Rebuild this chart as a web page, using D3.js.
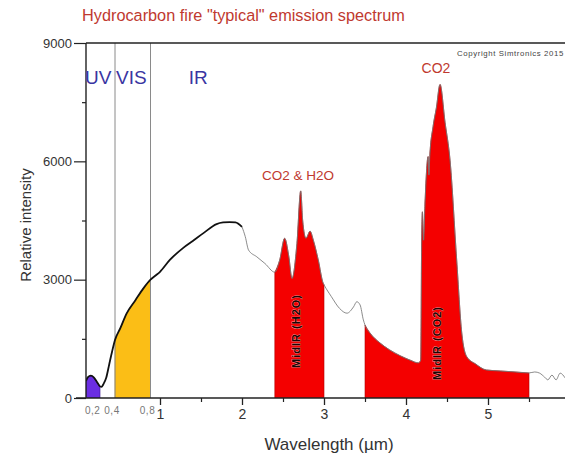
<!DOCTYPE html>
<html>
<head>
<meta charset="utf-8">
<script src="https://cdn.jsdelivr.net/npm/d3@7"></script>
<style>
  html, body { margin: 0; padding: 0; background: #fff; }
  svg { display: block; font-family: Arial, "Liberation Sans", sans-serif; }
</style>
</head>
<body>
<svg id="chart" width="565" height="457"></svg>
<script>
// Emission spectrum: wavelength (µm) and relative intensity
const wavelength = [
  0.10, 0.12, 0.15, 0.18, 0.21, 0.245, 0.26, 0.28, 0.31, 0.34, 0.37, 0.40,
  0.46, 0.53, 0.63, 0.72, 0.80, 0.90, 1.00, 1.12, 1.28, 1.40, 1.53, 1.69,
  1.77, 1.85, 1.92, 2.00, 2.04, 2.08, 2.18, 2.28, 2.40, 2.46, 2.52, 2.57,
  2.61, 2.67, 2.716, 2.74, 2.78, 2.83, 2.87, 2.93, 2.99, 3.00, 3.09, 3.19,
  3.28, 3.36, 3.40, 3.44, 3.48, 3.50, 3.56, 3.68, 3.80, 3.93, 4.05, 4.15,
  4.18, 4.19, 4.20, 4.215, 4.23, 4.27, 4.28, 4.29, 4.33, 4.37, 4.415, 4.476,
  4.537, 4.618, 4.68, 4.74, 4.85, 4.98, 5.15, 5.33, 5.50, 5.57, 5.63, 5.69,
  5.73, 5.78, 5.83, 5.88, 5.94
];
const intensity = [
  430, 530, 565, 525, 420, 295, 280, 350, 520, 850, 1180, 1470,
  1770, 2140, 2480, 2780, 3000, 3100, 3200, 3500, 3800, 3980, 4180, 4410,
  4450, 4460, 4450, 4340, 4090, 3750, 3580, 3410, 3190, 3500, 4050, 3600,
  3030, 3920, 5250, 4500, 4050, 4230, 4000, 3500, 2910, 2870, 2570, 2270,
  2150, 2310, 2440, 2360, 1980, 1850, 1650, 1400, 1220, 1070, 960, 890,
  960, 3750, 4720, 4000, 4850, 6120, 5650, 6120, 6880, 7350, 7950, 6990,
  6030, 3500, 1650, 1050, 860, 710, 685, 660, 635, 660, 630, 530,
  460, 580, 460, 630, 510
];

// Shaded bands (µm)
const bandStart = [0.1, 0.4, 2.4, 3.5];
const bandEnd   = [0.245, 0.8, 3.0, 5.5];
const bandLabel = ["", "", "MidIR (H2O)", "MidIR (CO2)"];

// Spectral region dividers and names
const regionBounds = [0.4, 0.8];
const regionLabels = ["UV", "VIS", "IR"];

// Axis ticks
const yTicks = [0, 3000, 6000, 9000];
const yMinorTicks = [1500, 4500, 7500];
const xTicks = [1, 2, 3, 4, 5];
const xMinorTicks = [1.5, 2.5, 3.5, 4.5, 5.5];
const xSmallTicks = [0.2, 0.4, 0.8];
const xSmallLabels = ["0,2", "0,4", "0,8"];

const svg = d3.select("#chart");
const plotL = 86, plotR = 565, plotT = 43, plotB = 398;

// Short-wavelength end is stretched on the original axis
const x = d3.scaleLinear()
  .domain([0.1, 0.4, 0.8, 1, 6])
  .range([86, 115, 150.5, 160, 570]);
const y = d3.scaleLinear().domain([0, 9000]).range([plotB, plotT]);

const pts = wavelength.map((w, i) => ({ w, v: intensity[i] }));

svg.append("defs").append("clipPath").attr("id", "plot")
  .append("rect").attr("x", plotL).attr("y", plotT - 1)
  .attr("width", plotR - plotL).attr("height", plotB - plotT + 1);

const plot = svg.append("g").attr("clip-path", "url(#plot)");

// Band fills
const area = d3.area().curve(d3.curveMonotoneX)
  .x(d => x(d.w)).y0(y(0)).y1(d => y(d.v));
const bandFill = ["#6b2ee3", "#fbbe16", "#f40000", "#f40000"];
const bandEdge = ["#3a1890", "#d49a10", "#b00000", "#b00000"];
bandStart.forEach((s, i) => {
  const seg = pts.filter(p => p.w >= s - 1e-9 && p.w <= bandEnd[i] + 1e-9);
  plot.append("path").datum(seg)
    .attr("d", area)
    .attr("fill", bandFill[i])
    .attr("stroke", bandEdge[i])
    .attr("stroke-width", 0.6);
});

// Region divider lines
regionBounds.forEach(b => {
  plot.append("line")
    .attr("x1", x(b)).attr("x2", x(b))
    .attr("y1", plotT).attr("y2", plotB)
    .attr("stroke", "#8a8a8a").attr("stroke-width", 1);
});

// Spectrum curve: bold up to 2 µm, thin grey beyond
const line = d3.line().curve(d3.curveMonotoneX).x(d => x(d.w)).y(d => y(d.v));
plot.append("path").datum(pts.filter(p => p.w >= 2.0))
  .attr("d", line).attr("fill", "none")
  .attr("stroke", "#777").attr("stroke-width", 1).attr("stroke-opacity", 0.85);
plot.append("path").datum(pts.filter(p => p.w <= 2.0))
  .attr("d", line).attr("fill", "none")
  .attr("stroke", "#111").attr("stroke-width", 1.8)
  .attr("stroke-linejoin", "round");

// Rotated band labels
const bandLabelPos = [null, null, [296, 331], [437, 343]];
bandLabel.forEach((t, i) => {
  if (!t) return;
  svg.append("text")
    .attr("transform", `translate(${bandLabelPos[i][0]},${bandLabelPos[i][1]}) rotate(-90)`)
    .attr("text-anchor", "middle")
    .attr("dy", "0.35em")
    .attr("font-size", 11).attr("font-weight", "bold")
    .attr("letter-spacing", 1)
    .attr("fill", "#1a0505")
    .attr("stroke", "#ff9a9a").attr("stroke-width", 0.7)
    .attr("paint-order", "stroke")
    .text(t);
});

// Frame lines
svg.append("line").attr("x1", plotL).attr("x2", plotR).attr("y1", plotT).attr("y2", plotT)
  .attr("stroke", "#222").attr("stroke-width", 1.4);
svg.append("line").attr("x1", plotL).attr("x2", plotL).attr("y1", plotT).attr("y2", plotB)
  .attr("stroke", "#222").attr("stroke-width", 1.4);
svg.append("line").attr("x1", 76).attr("x2", plotR).attr("y1", plotB).attr("y2", plotB)
  .attr("stroke", "#222").attr("stroke-width", 1.4);

// Y axis
const yAxis = svg.append("g").attr("transform", `translate(${plotL},0)`)
  .call(d3.axisLeft(y).tickValues(yTicks).tickSize(12).tickPadding(2).tickFormat(d3.format("d")));
yAxis.select(".domain").remove();
yAxis.selectAll("line").attr("stroke", "#222").attr("stroke-width", 1.2);
yAxis.selectAll("text").attr("font-size", 13).attr("fill", "#333")
  .attr("font-family", "Arial, 'Liberation Sans', sans-serif");
const yMinor = svg.append("g").attr("transform", `translate(${plotL},0)`)
  .call(d3.axisLeft(y).tickValues(yMinorTicks).tickSize(4).tickFormat(""));
yMinor.select(".domain").remove();
yMinor.selectAll("line").attr("stroke", "#222").attr("stroke-width", 1.2);

// X axis
const xAxis = svg.append("g").attr("transform", `translate(0,${plotB})`)
  .call(d3.axisBottom(x).tickValues(xTicks).tickSize(7).tickPadding(4).tickFormat(d3.format("d")));
xAxis.select(".domain").remove();
xAxis.selectAll("line").attr("stroke", "#222").attr("stroke-width", 1.3);
xAxis.selectAll("text").attr("font-size", 14).attr("fill", "#333")
  .attr("font-family", "Arial, 'Liberation Sans', sans-serif");
const xMinor = svg.append("g").attr("transform", `translate(0,${plotB})`)
  .call(d3.axisBottom(x).tickValues(xMinorTicks).tickSize(4).tickFormat(""));
xMinor.select(".domain").remove();
xMinor.selectAll("line").attr("stroke", "#222").attr("stroke-width", 1.2);

xSmallTicks.forEach((t, i) => {
  svg.append("text")
    .attr("x", x(t) - 3).attr("y", 413.5)
    .attr("text-anchor", "middle")
    .attr("font-size", 10).attr("letter-spacing", 0.5)
    .attr("fill", "#777")
    .text(xSmallLabels[i]);
});

// Axis titles
svg.append("text")
  .attr("x", 329).attr("y", 450)
  .attr("text-anchor", "middle")
  .attr("font-size", 17).attr("fill", "#333")
  .text("Wavelength (µm)");
svg.append("text")
  .attr("transform", "translate(31,225) rotate(-90)")
  .attr("text-anchor", "middle")
  .attr("font-size", 15).attr("fill", "#333")
  .text("Relative intensity");

// Chart title
svg.append("text")
  .attr("x", 82).attr("y", 21)
  .attr("font-size", 16.3).attr("fill", "#c0392f")
  .text("Hydrocarbon fire \"typical\" emission spectrum");

// Copyright note
svg.append("text")
  .attr("x", 457).attr("y", 55.5)
  .attr("font-size", 7.8).attr("letter-spacing", 0.62)
  .attr("fill", "#444")
  .text("Copyright Simtronics 2015");

// Spectral region names
const regionX = [x(0.1) - 1, x(0.4) + 1, x(1.35)];
regionLabels.forEach((t, i) => {
  svg.append("text")
    .attr("x", regionX[i]).attr("y", 84)
    .attr("font-size", 19).attr("fill", "#3a35a2")
    .text(t);
});

// Emission band annotations
svg.append("text")
  .attr("x", 298).attr("y", 180)
  .attr("text-anchor", "middle")
  .attr("font-size", 13.5).attr("fill", "#c0392f")
  .text("CO2 & H2O");
svg.append("text")
  .attr("x", 436).attr("y", 73)
  .attr("text-anchor", "middle")
  .attr("font-size", 14).attr("fill", "#c0392f")
  .text("CO2");
</script>
</body>
</html>
